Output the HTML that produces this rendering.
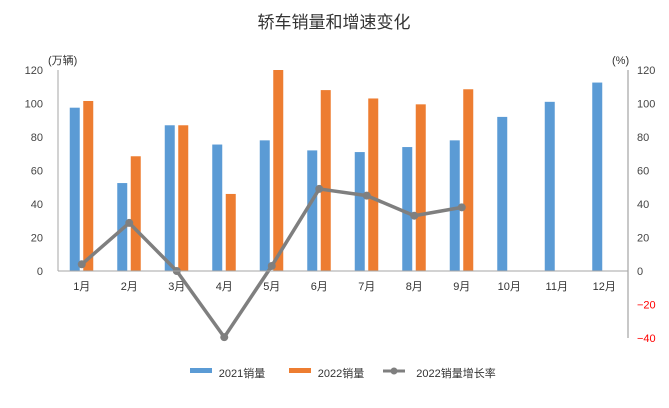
<!DOCTYPE html><html><head><meta charset="utf-8"><style>body{margin:0;background:#fff}svg{display:block}text{font-family:"Liberation Sans","Noto Sans CJK SC",sans-serif}</style></head><body>
<svg width="669" height="408" xmlns="http://www.w3.org/2000/svg">
<text x="334" y="28" font-size="17" text-anchor="middle" fill="#333">轿车销量和增速变化</text>
<text x="48" y="64" font-size="11" fill="#333">(万辆)</text>
<text x="612" y="64" font-size="11" fill="#333">(%)</text>
<g font-size="11" fill="#444" text-anchor="end" id="L"></g>
<g id="g"></g>
<line x1="58" y1="70" x2="58" y2="271" stroke="#a6a6a6"/>
<line x1="628" y1="70" x2="628" y2="338" stroke="#c8c8c8" stroke-width="2"/>
<line x1="58" y1="271" x2="628" y2="271" stroke="#a6a6a6"/>
<g font-size="11" fill="#333" text-anchor="middle">
<rect x="190" y="368" width="22" height="5" fill="#5b9bd5"/><text x="242" y="377">2021销量</text>
<rect x="289" y="368" width="22" height="5" fill="#ed7d31"/><text x="341" y="377">2022销量</text>
<line x1="383" y1="371" x2="405" y2="371" stroke="#7f7f7f" stroke-width="3"/><circle cx="394" cy="371" r="3.5" fill="#7f7f7f"/><text x="456" y="377">2022销量增长率</text>
</g>
<script>
var s=1.675,z=271,NS="http://www.w3.org/2000/svg",g=document.getElementById('g');
function el(t,a,tx){var e=document.createElementNS(NS,t);for(var k in a)e.setAttribute(k,a[k]);if(tx!=null)e.textContent=tx;g.appendChild(e);return e;}
for(var v=0;v<=120;v+=20){el('text',{x:43,y:z-v*s+4,'font-size':11,fill:'#444','text-anchor':'end'},v);}
for(var v=-40;v<=120;v+=20){el('text',{x:637,y:z-v*s+4,'font-size':11,fill:v<0?'#ff0000':'#444'},v<0?'−'+(-v):v);}
var b=[97.5,52.5,87,75.5,78,72,71,74,78,92,101,112.5],o=[101.5,68.5,87,46,120,108,103,99.5,108.5],l=[4,28.7,0,-39.5,3,49,45,33,38];
var pts=[];
for(var i=0;i<12;i++){var c=58+47.5*(i+0.5);
el('rect',{x:c-12,y:z-b[i]*s,width:10,height:b[i]*s,fill:'#5b9bd5'});
if(i<9)el('rect',{x:c+1.5,y:z-o[i]*s,width:10,height:o[i]*s,fill:'#ed7d31'});
el('text',{x:c,y:290,'font-size':11,fill:'#333','text-anchor':'middle'},(i+1)+'月');
if(i<9)pts.push([c,z-l[i]*s]);}
el('polyline',{points:pts.join(' '),fill:'none',stroke:'#7f7f7f','stroke-width':3.5,'stroke-linejoin':'round'});
pts.forEach(function(p){el('circle',{cx:p[0],cy:p[1],r:4,fill:'#7f7f7f'});});
</script>
</svg></body></html>
